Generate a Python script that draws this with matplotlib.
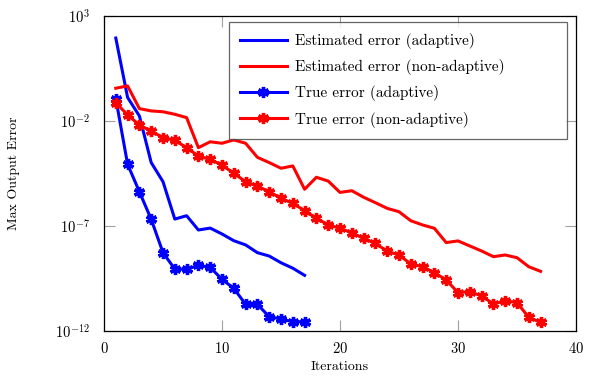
import numpy as np
import matplotlib
matplotlib.use('Agg')
import matplotlib.pyplot as plt
from matplotlib.ticker import LogFormatterSciNotation, NullLocator

plt.rcParams['font.family'] = ['cmr10', 'DejaVu Serif']
plt.rcParams['mathtext.fontset'] = 'cm'
plt.rcParams['axes.formatter.use_mathtext'] = True

# log10 of the errors
est_adaptive_log = [1.95, -0.88, -1.76, -3.98, -4.89, -6.67, -6.51, -7.19, -7.10,
                    -7.38, -7.70, -7.90, -8.27, -8.43, -8.75, -9.01, -9.35]
true_adaptive_log = [-0.93, -4.06, -5.37, -6.68, -8.27, -9.05, -9.06, -8.87, -8.97,
                     -9.54, -9.97, -10.73, -10.73, -11.32, -11.43, -11.56, -11.56]
est_nonadaptive_log = [-0.44, -0.33, -1.41, -1.52, -1.56, -1.68, -1.84, -3.27, -2.99,
                       -3.06, -2.90, -3.06, -3.73, -3.98, -4.25, -4.14, -5.25, -4.68,
                       -4.86, -5.40, -5.32, -5.63, -5.89, -6.16, -6.32, -6.75, -6.95,
                       -7.11, -7.79, -7.71, -7.95, -8.19, -8.46, -8.38, -8.51, -8.94,
                       -9.16]
true_nonadaptive_log = [-1.13, -1.71, -2.19, -2.48, -2.79, -2.92, -3.27, -3.67, -3.83,
                        -4.10, -4.49, -4.89, -5.10, -5.37, -5.68, -5.92, -6.27, -6.63,
                        -6.95, -7.11, -7.32, -7.59, -7.83, -8.20, -8.38, -8.81, -8.94,
                        -9.22, -9.57, -10.17, -10.13, -10.33, -10.71, -10.56, -10.65,
                        -11.35, -11.59]

it_adaptive = np.arange(1, len(est_adaptive_log) + 1)
it_nonadaptive = np.arange(1, len(est_nonadaptive_log) + 1)

fig = plt.figure(figsize=(5.96, 3.88), dpi=100)
ax = fig.add_axes([104 / 596, 1 - 331 / 388, 472 / 596, 315 / 388])

lw = 2.2
star = dict(marker=(6, 2, 0), markersize=8, markeredgewidth=2.4)
ax.plot(it_adaptive, 10.0 ** np.array(est_adaptive_log), color='blue', lw=lw,
        label='Estimated error (adaptive)')
ax.plot(it_nonadaptive, 10.0 ** np.array(est_nonadaptive_log), color='red', lw=lw,
        label='Estimated error (non-adaptive)')
ax.plot(it_adaptive, 10.0 ** np.array(true_adaptive_log), color='blue', lw=lw,
        label='True error (adaptive)', **star)
ax.plot(it_nonadaptive, 10.0 ** np.array(true_nonadaptive_log), color='red', lw=lw,
        label='True error (non-adaptive)', **star)

ax.set_yscale('log')
ax.set_xlim(0, 40)
ax.set_ylim(1e-12, 1e3)
ax.set_xticks([0, 10, 20, 30, 40])
ax.set_yticks([1e-12, 1e-7, 1e-2, 1e3])
ax.yaxis.set_major_formatter(LogFormatterSciNotation())
ax.yaxis.set_minor_locator(NullLocator())
ax.tick_params(direction='in', length=8, width=0.8, color='#a0a0a0',
               top=True, right=True, labelsize=10.5)
ax.tick_params(axis='x', pad=7)
ax.tick_params(axis='y', pad=10)
for s in ax.spines.values():
    s.set_linewidth(0.9)

ax.set_xlabel('Iterations', fontsize=10)
ax.set_ylabel('Max Output Error', fontsize=10)
ax.xaxis.set_label_coords(0.5, -0.095)
ax.yaxis.set_label_coords(-0.178, 0.5)

leg = ax.legend(loc='upper left', fontsize=11, frameon=True, fancybox=False,
                edgecolor='#404040', handlelength=3.07, handletextpad=0.52,
                borderpad=0.72, labelspacing=0.67, borderaxespad=0,
                mode='expand', bbox_to_anchor=(0.2648, 0.0, 0.716, 0.981))
leg.get_frame().set_linewidth(0.9)

fig.savefig('out.png', dpi=100)
